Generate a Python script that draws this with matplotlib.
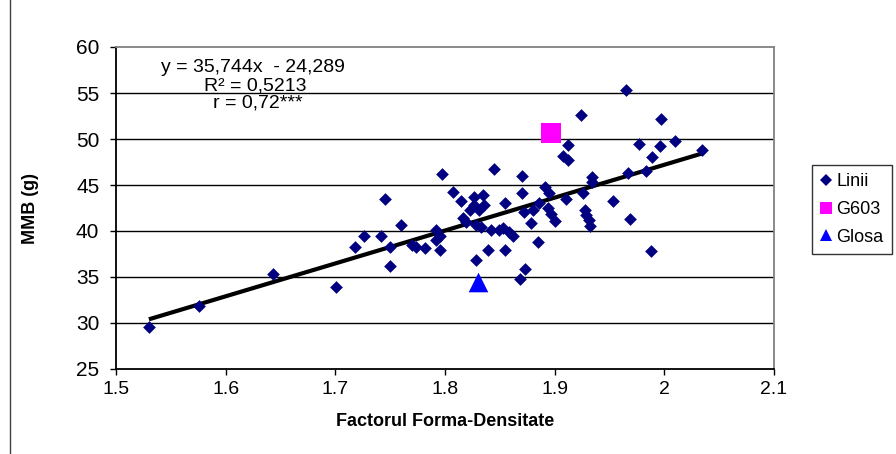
import matplotlib
matplotlib.use("Agg")
import matplotlib.pyplot as plt
from matplotlib.lines import Line2D
import numpy as np

# Data: Linii (x = Factorul Forma-Densitate, y = MMB g)
linii_x = [1.530, 1.576, 1.643, 1.701, 1.718, 1.726, 1.742, 1.745, 1.750, 1.750,
           1.760, 1.770, 1.774, 1.782, 1.797, 1.807, 1.815, 1.826, 1.835, 1.836,
           1.826, 1.831, 1.823, 1.816, 1.819, 1.828, 1.833, 1.792, 1.795, 1.792,
           1.795, 1.842, 1.849, 1.839, 1.828, 1.845, 1.870, 1.870, 1.8915, 1.8945,
           1.855, 1.9075, 1.912, 1.912, 1.9106, 1.886, 1.880, 1.872, 1.894, 1.897,
           1.900, 1.878, 1.853, 1.858, 1.862, 1.885, 1.855, 1.873, 1.868, 1.965,
           1.924, 1.997, 1.977, 1.996, 2.010, 2.034, 1.989, 1.967, 1.983, 1.934,
           1.934, 1.926, 1.953, 1.9275, 1.929, 1.931, 1.932, 1.969, 1.988]
linii_y = [29.6, 31.8, 35.3, 33.9, 38.3, 39.5, 39.5, 43.5, 38.3, 36.2,
           40.6, 38.5, 38.3, 38.1, 46.2, 44.2, 43.3, 43.7, 43.9, 42.8,
           42.8, 42.3, 42.3, 41.4, 41.0, 40.6, 40.4, 40.1, 39.5, 39.0,
           37.9, 40.1, 40.1, 37.9, 36.8, 46.7, 46.0, 44.1, 44.8, 44.1,
           43.0, 48.2, 47.7, 49.3, 43.5, 43.0, 42.3, 42.1, 42.5, 41.8,
           41.1, 40.9, 40.3, 39.9, 39.5, 38.8, 37.9, 35.9, 34.8, 55.3,
           52.6, 52.2, 49.5, 49.2, 49.8, 48.8, 48.0, 46.3, 46.5, 45.9,
           45.3, 44.1, 43.3, 42.3, 41.7, 41.2, 40.5, 41.3, 37.8]
g603_x = [1.897]
g603_y = [50.65]
glosa_x = [1.830]
glosa_y = [34.5]

slope = 35.744
intercept = -24.289
eq_lines = ["y = 35,744x  - 24,289", "R² = 0,5213", "r = 0,72***"]

x_ticks = [1.5, 1.6, 1.7, 1.8, 1.9, 2.0, 2.1]
x_tick_labels = ["1.5", "1.6", "1.7", "1.8", "1.9", "2", "2.1"]
y_ticks = [25, 30, 35, 40, 45, 50, 55, 60]

plt.rcParams['font.family'] = ['Liberation Sans', 'DejaVu Sans']

W, H = 896, 454
fig = plt.figure(figsize=(W / 100, H / 100), dpi=100)
ax = fig.add_axes([116 / W, 1 - 369 / H, (774 - 116) / W, (369 - 47) / H])

ax.set_xlim(1.5, 2.1)
ax.set_ylim(25, 60)
ax.set_xticks(x_ticks)
ax.set_xticklabels(x_tick_labels)
ax.set_yticks(y_ticks)
for v in y_ticks[1:-1]:
    ax.axhline(v, color='black', lw=1.0, zorder=1)

ax.spines['left'].set_color('black')
ax.spines['bottom'].set_color('black')
ax.spines['left'].set_linewidth(1.3)
ax.spines['bottom'].set_linewidth(1.3)
ax.spines['top'].set_color('#808080')
ax.spines['right'].set_color('#808080')
ax.spines['top'].set_linewidth(1.3)
ax.spines['right'].set_linewidth(1.3)
ax.tick_params(axis='both', direction='out', length=4, width=1, color='black')
ax.tick_params(axis='y', pad=8, labelsize=15)
ax.tick_params(axis='x', pad=5, labelsize=14)

# trend line
xl = np.array([min(linii_x), max(linii_x)])
ax.plot(xl, slope * xl + intercept, color='black', lw=3, zorder=3, solid_capstyle='butt')

ax.scatter(linii_x, linii_y, marker='D', s=42, color='#000080', zorder=4, linewidths=0)
ax.scatter(g603_x, g603_y, marker='s', s=210, color='#FF00FF', zorder=4, linewidths=0)
ax.scatter(glosa_x, glosa_y, marker='^', s=200, color='#0000FF', zorder=4, linewidths=0)

ax.set_xlabel("Factorul Forma-Densitate", fontsize=13, fontweight='bold')
ax.set_ylabel("MMB (g)", fontsize=13, fontweight='bold')
ax.xaxis.set_label_coords(0.5, (369 - 422) / 322)
ax.yaxis.set_label_coords((30 - 116) / 658, 0.5)
ax.yaxis.label.set_va('center')
ax.xaxis.label.set_va('center')

ax.text(253 / W, 1 - 68 / H, eq_lines[0], transform=fig.transFigure, ha='center', va='center', fontsize=14)
ax.text(255 / W, 1 - 86 / H, eq_lines[1], transform=fig.transFigure, ha='center', va='center', fontsize=14)
ax.text(258 / W, 1 - 103 / H, eq_lines[2], transform=fig.transFigure, ha='center', va='center', fontsize=14)

handles = [
    Line2D([], [], marker='D', ls='none', color='#000080', markersize=6, markeredgewidth=0),
    Line2D([], [], marker='s', ls='none', color='#FF00FF', markersize=8.5, markeredgewidth=0),
    Line2D([], [], marker='^', ls='none', color='#0000FF', markersize=8.5, markeredgewidth=0),
]
leg = fig.legend(handles, ["Linii", "G603", "Glosa"], loc='upper left',
                 bbox_to_anchor=(812 / W, 1 - 165 / H), bbox_transform=fig.transFigure,
                 fontsize=13, frameon=True, fancybox=False, edgecolor='black',
                 handlelength=0.6, handletextpad=0.3, labelspacing=0.6,
                 borderpad=0.45, borderaxespad=0)
leg.get_frame().set_linewidth(1.0)

# outer chart border (left edge visible)
fig.add_artist(Line2D([10 / W, 10 / W], [0, 1], transform=fig.transFigure, color='#404040', lw=1))

fig.savefig("out.png", dpi=100)
